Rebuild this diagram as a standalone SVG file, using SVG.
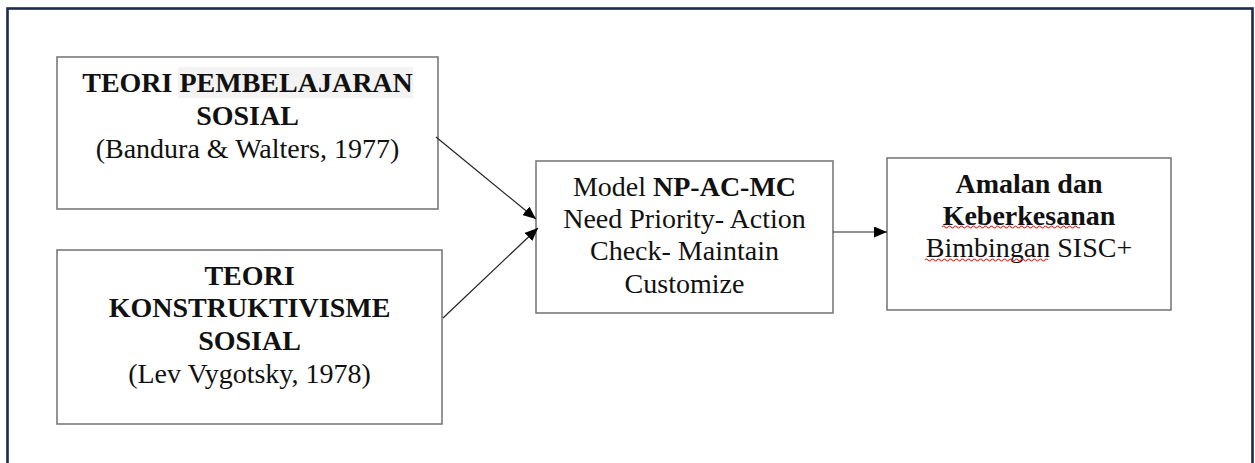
<svg xmlns="http://www.w3.org/2000/svg" width="1255" height="463" viewBox="0 0 1255 463">
<defs>
<style>
.box{fill:#fff;stroke:#7a7a7a;stroke-width:1.6}
.t{font-family:"Liberation Serif","Times New Roman",serif;font-size:28px;fill:#111;text-anchor:middle}
.b{font-weight:bold}
.con{stroke:#222;stroke-width:1.2;fill:none}
.wavy{stroke:#e03030;stroke-width:1.2;fill:none}
</style>
<marker id="ah" viewBox="0 0 13 11" refX="13" refY="5.5" markerWidth="13" markerHeight="11" markerUnits="userSpaceOnUse" orient="auto">
<path d="M0,0 L13,5.5 L0,11 Z" fill="#000"/>
</marker>
</defs>
<rect x="0" y="0" width="1255" height="463" fill="#fff"/>
<rect id="frame" x="7.5" y="8.5" width="1245" height="470" fill="none" stroke="#1c2a4e" stroke-width="2.6"/>
<g id="n1">
<rect class="box" x="57" y="57" width="381" height="152"/>
<rect x="178" y="67" width="235" height="31" fill="#f3f3f3"/>
<text class="t b" x="247.5" y="92">TEORI PEMBELAJARAN</text>
<text class="t b" x="247.5" y="125">SOSIAL</text>
<text class="t" x="247.5" y="158">(Bandura &amp; Walters, 1977)</text>
</g>
<g id="n2">
<rect class="box" x="57" y="250" width="385" height="174"/>
<text class="t b" x="249.5" y="285">TEORI</text>
<text class="t b" x="249.5" y="317">KONSTRUKTIVISME</text>
<text class="t b" x="249.5" y="350">SOSIAL</text>
<text class="t" x="249.5" y="383">(Lev Vygotsky, 1978)</text>
</g>
<g id="n3">
<rect class="box" x="536" y="161" width="297" height="152"/>
<text class="t" x="684.5" y="196">Model <tspan class="b">NP-AC-MC</tspan></text>
<text class="t" x="684.5" y="228">Need Priority- Action</text>
<text class="t" x="684.5" y="260">Check- Maintain</text>
<text class="t" x="684.5" y="293">Customize</text>
</g>
<g id="n4">
<rect class="box" x="887" y="158" width="284" height="152"/>
<text class="t b" x="1029" y="193">Amalan dan</text>
<text class="t b" x="1029" y="225">Keberkesanan</text>
<text class="t" x="1029" y="257">Bimbingan SISC+</text>
<path class="wavy" d="M942,227 q1.5,-2 3,0 t3,0 t3,0 t3,0 t3,0 t3,0 t3,0 t3,0 t3,0 t3,0 t3,0 t3,0 t3,0 t3,0 t3,0 t3,0 t3,0 t3,0 t3,0 t3,0 t3,0 t3,0 t3,0 t3,0 t3,0 t3,0 t3,0 t3,0 t3,0 t3,0 t3,0 t3,0 t3,0 t3,0 t3,0 t3,0 t3,0 t3,0 t3,0 t3,0 t3,0 t3,0 t3,0 t3,0 t3,0 t3,0"/>
<path class="wavy" d="M925,260 q1.5,-2 3,0 t3,0 t3,0 t3,0 t3,0 t3,0 t3,0 t3,0 t3,0 t3,0 t3,0 t3,0 t3,0 t3,0 t3,0 t3,0 t3,0 t3,0 t3,0 t3,0 t3,0 t3,0 t3,0 t3,0 t3,0 t3,0 t3,0 t3,0 t3,0 t3,0 t3,0 t3,0 t3,0 t3,0 t3,0 t3,0 t3,0 t3,0 t3,0 t3,0 t3,0"/>
</g>
<g id="connectors">
<line class="con" x1="436" y1="137" x2="536" y2="219" marker-end="url(#ah)"/>
<line class="con" x1="443" y1="318" x2="538" y2="228" marker-end="url(#ah)"/>
<line class="con" x1="833" y1="232" x2="887" y2="232" marker-end="url(#ah)"/>
</g>
</svg>
